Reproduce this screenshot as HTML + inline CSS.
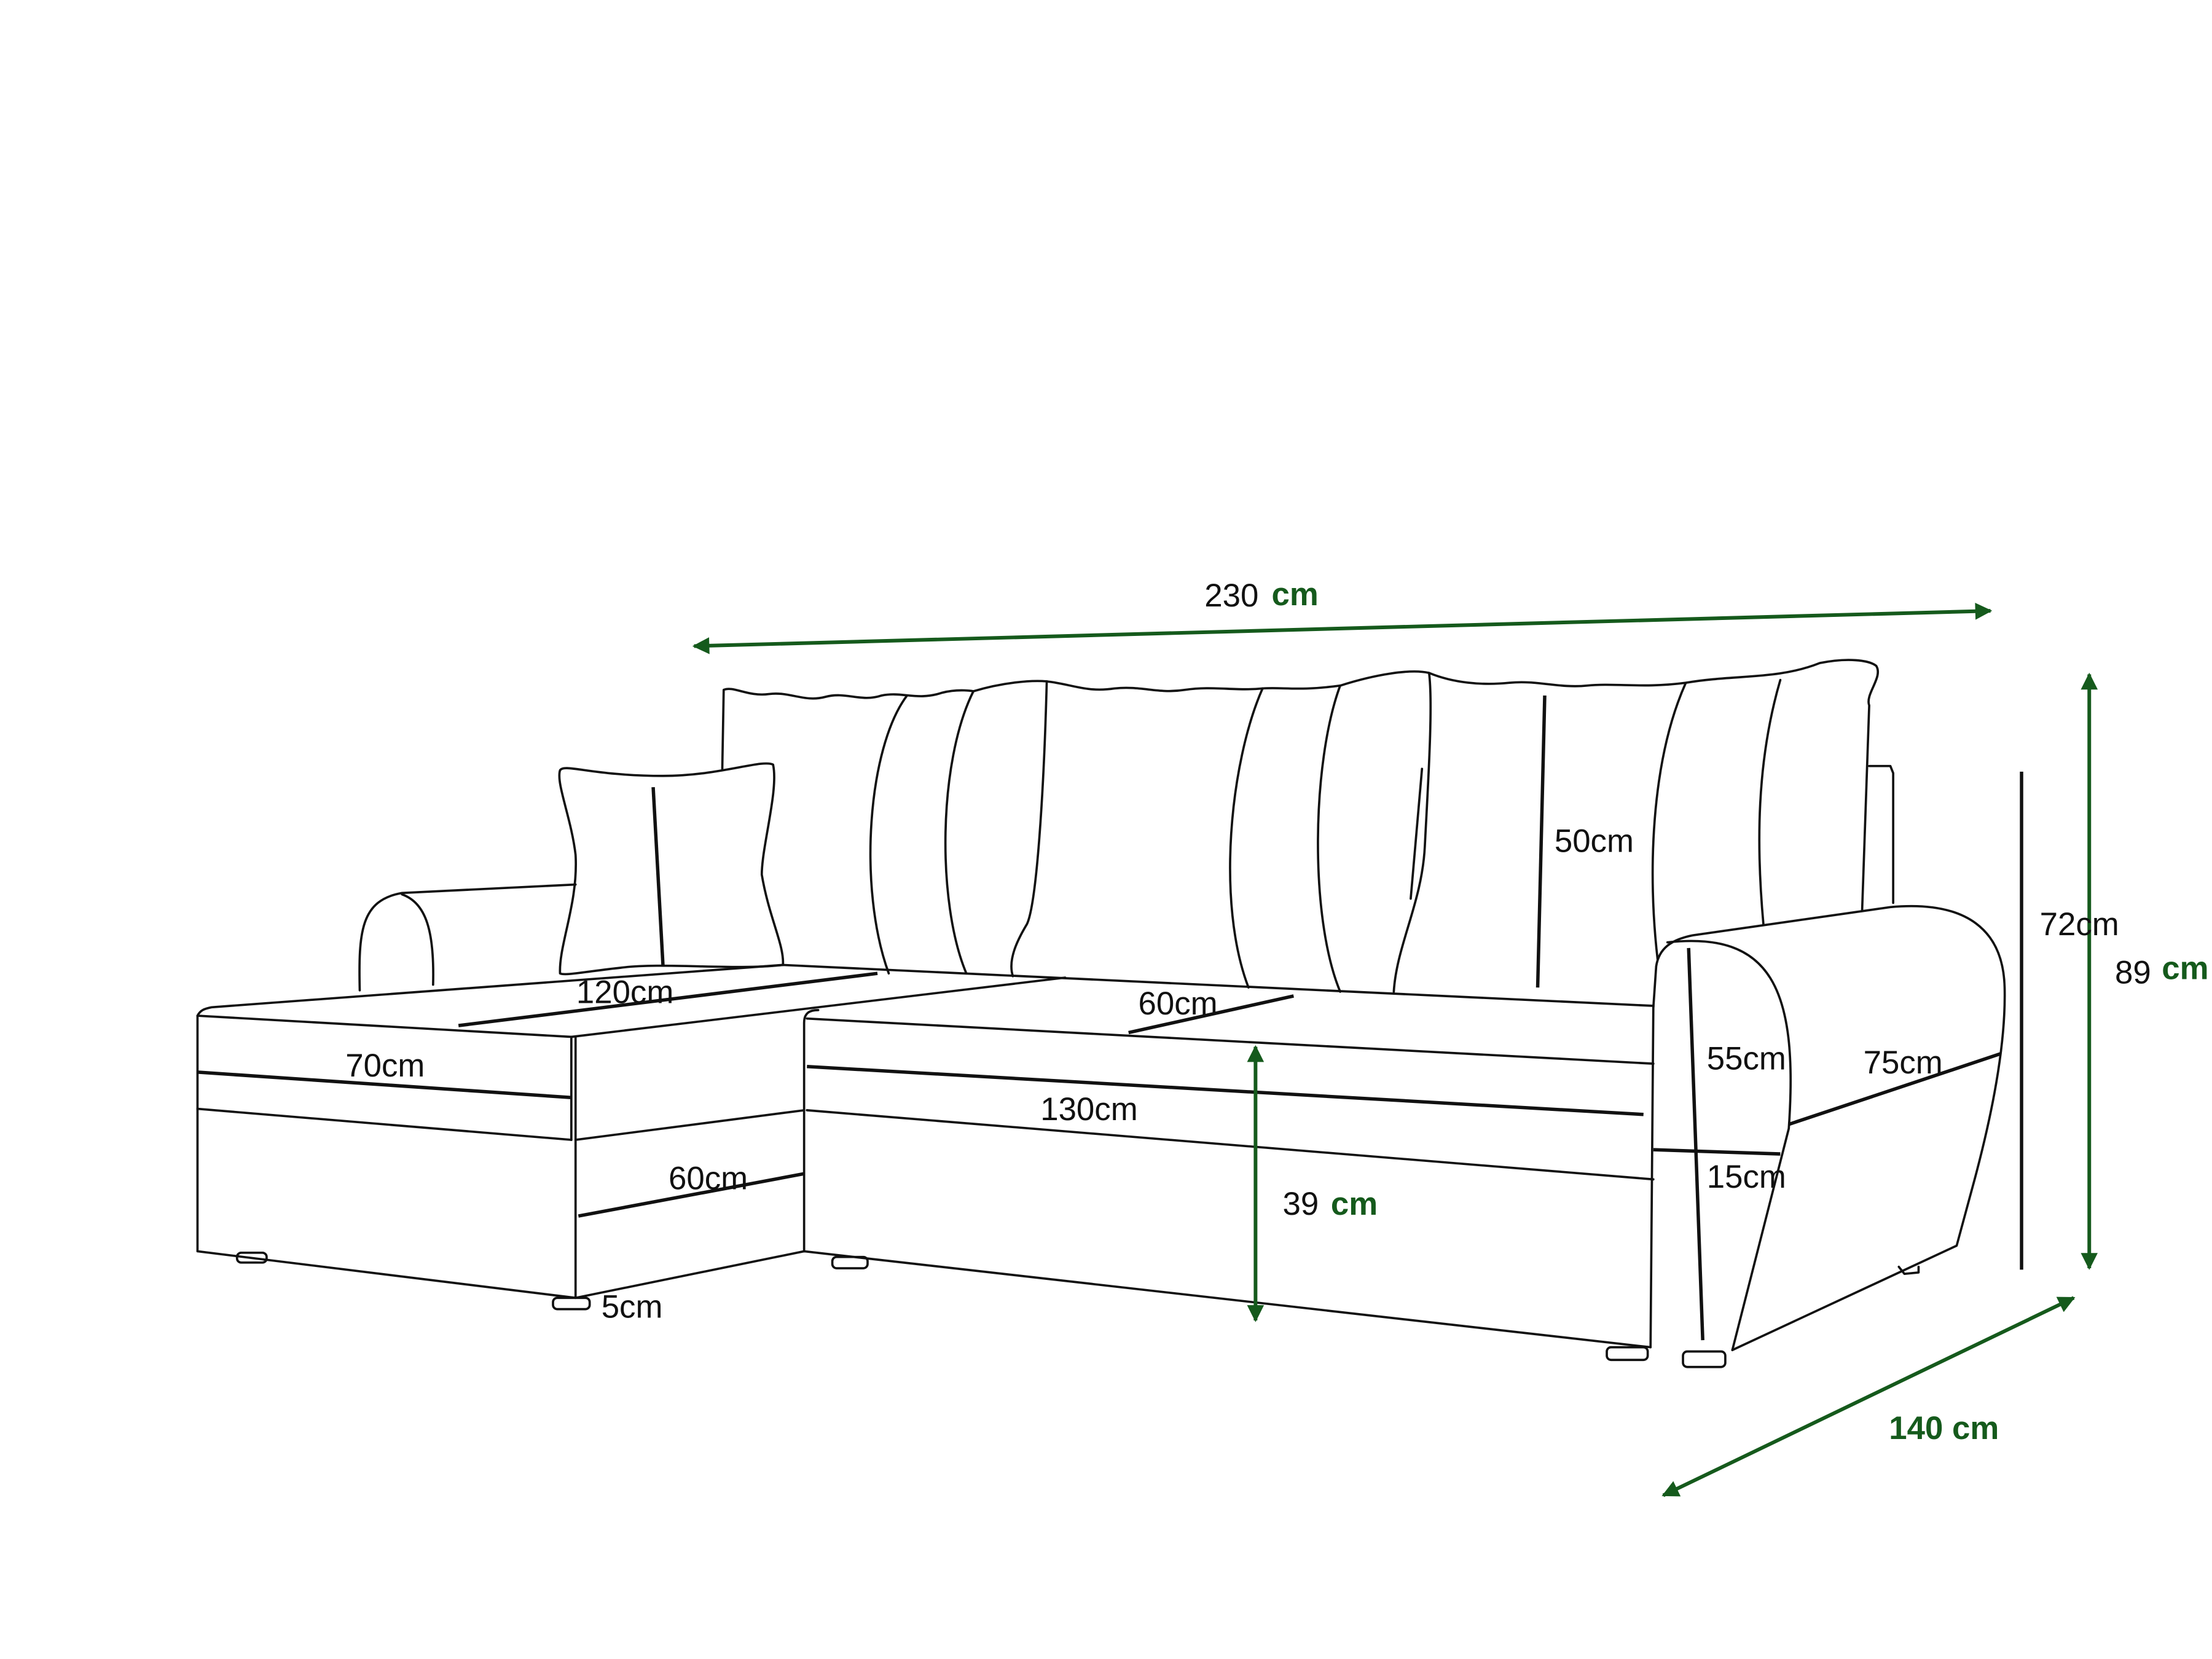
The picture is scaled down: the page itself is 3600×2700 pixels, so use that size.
<!DOCTYPE html>
<html><head><meta charset="utf-8"><style>
html,body{margin:0;padding:0;background:#fff;}
svg{display:block;}
text{font-family:"Liberation Sans",sans-serif;font-size:23px;fill:#111;text-anchor:middle;}
.g{fill:#155a1c;font-weight:bold;}
</style></head><body>
<svg width="3600" height="2700" viewBox="0 0 1568 1176" xmlns="http://www.w3.org/2000/svg">
<defs>
<marker id="ah" viewBox="0 0 10 10" refX="9" refY="5" markerWidth="9" markerHeight="7" orient="auto-start-reverse" markerUnits="userSpaceOnUse">
<path d="M0,0 L10,5 L0,10 z" fill="#155a1c"/></marker>
<marker id="ah2" viewBox="0 0 10 10" refX="9" refY="5" markerWidth="22" markerHeight="12" orient="auto-start-reverse" markerUnits="userSpaceOnUse">
<path d="M0,0 L10,5 L0,10 z" fill="#155a1c"/></marker>
</defs>
<g fill="none" stroke="#111" stroke-width="1.6" stroke-linejoin="round" stroke-linecap="round">
<!-- left arm -->
<path d="M255,702 C254,660 256,638 285,633 L408,627"/>
<path d="M285,634 C302,640 308,660 307,698"/>
<!-- small pillow -->
<path d="M397,546 C400,541 420,550 470,550 C510,550 540,538 548,542 C552,560 540,600 540,620 C545,650 556,670 555,684 C520,688 470,682 440,686 C420,688 400,692 397,690 C396,670 410,640 408,606 C405,580 394,555 397,546 Z"/>
<!-- back pillows -->
<path d="M512,545 L513,489 C520,486 530,494 545,492 C560,490 570,498 585,494 C600,490 610,498 625,493 C640,490 650,497 668,491 C680,488 690,490 690,490"/>
<path d="M643,493 C615,530 608,630 630,690"/>
<path d="M690,490 C665,540 664,640 685,690"/>
<path d="M690,490 C710,484 730,482 742,483 C740,560 735,640 728,655 C722,665 714,680 718,692"/>
<path d="M742,483 C760,485 770,491 790,488 C810,486 820,492 840,489 C860,486 875,490 895,488 C910,487 920,490 950,486"/>
<path d="M895,488 C872,540 862,640 885,700"/>
<path d="M950,486 C930,540 928,650 950,703"/>
<path d="M950,486 C975,478 1000,474 1013,477 C1016,500 1012,560 1010,600 C1008,640 990,670 988,703"/>
<path d="M1013,477 C1030,484 1050,486 1070,484 C1090,482 1105,488 1125,486 C1145,484 1165,488 1195,484 C1230,478 1260,482 1290,470 C1310,466 1325,468 1330,472 C1335,480 1322,492 1325,500 L1320,645"/>
<path d="M1195,484 C1170,540 1168,620 1175,680"/>
<path d="M1262,482 C1245,540 1245,600 1250,655"/>
<path d="M1325,543 L1340,543 L1342,548 L1342,640"/>
<path d="M1008,545 L1000,637"/>
<!-- chaise & seat top -->
<path d="M140,720 C142,716 145,715 150,714 L555,684 L1172,713"/>
<path d="M405,735 L755,693"/>
<!-- chaise front -->
<path d="M140,720 L405,735 L405,808 M140,720 L140,887 L408,920 L408,735"/>
<path d="M140,786 L405,808"/>
<path d="M408,808 L570,787"/>
<path d="M408,920 L570,887"/>
<!-- main seat -->
<path d="M570,887 L570,725 C570,718 574,716 580,716"/>
<path d="M572,722 L1172,754"/>
<path d="M572,787 L1172,836"/>
<path d="M570,887 L1170,955"/>
<path d="M1172,713 L1170,955"/>
<!-- right arm -->
<path d="M1172,714 L1174,685 C1176,672 1185,666 1200,663 L1340,643 C1395,638 1420,660 1421,700 C1422,740 1412,790 1400,835 L1387,883 L1228,957"/>
<path d="M1182,668 C1255,660 1275,700 1268,800 L1228,957"/>
<!-- legs -->
<rect x="168" y="888" width="21" height="7" rx="3"/>
<rect x="392" y="920" width="26" height="8" rx="3"/>
<rect x="590" y="891" width="25" height="8" rx="3"/>
<rect x="1139" y="955" width="29" height="9" rx="3"/>
<rect x="1193" y="958" width="30" height="11" rx="3"/>
<path d="M1346,898 L1350,903 L1360,902 L1360,898"/>
</g>
<!-- black dimension lines -->
<g stroke="#111" stroke-width="2.4" fill="none">
<path d="M140,760 L405,778"/>
<path d="M572,756 L1165,790"/>
<path d="M410,862 L570,832"/>
<path d="M463,558 L470,685"/>
<path d="M325,727 L622,690"/>
<path d="M800,732 L917,706"/>
<path d="M1095,493 L1090,700"/>
<path d="M1197,672 L1207,950"/>
<path d="M1268,797 L1418,747"/>
<path d="M1433,547 L1433,900"/>
<path d="M1172,815 L1262,818"/>
</g>
<!-- green arrows -->
<g stroke="#155a1c" stroke-width="2.6" fill="none">
<path d="M492,458 L1411,433" marker-start="url(#ah2)" marker-end="url(#ah2)"/>
<path d="M890,742 L890,936" marker-start="url(#ah2)" marker-end="url(#ah2)"/>
<path d="M1481,478 L1481,899" marker-start="url(#ah2)" marker-end="url(#ah2)"/>
<path d="M1179,1060 L1470,920" marker-start="url(#ah2)" marker-end="url(#ah2)"/>
</g>
<!-- labels -->
<text x="873" y="430">230</text><text class="g" x="918" y="429">cm</text>
<text x="922" y="861">39</text><text class="g" x="960" y="861">cm</text>
<text x="1512" y="697">89</text><text class="g" x="1549" y="694">cm</text>
<text class="g" x="1378" y="1020">140 cm</text>
<text x="443" y="711">120cm</text>
<text x="273" y="763">70cm</text>
<text x="835" y="719">60cm</text>
<text x="772" y="794">130cm</text>
<text x="502" y="843">60cm</text>
<text x="448" y="934">5cm</text>
<text x="1130" y="604">50cm</text>
<text x="1238" y="758">55cm</text>
<text x="1349" y="761">75cm</text>
<text x="1238" y="842">15cm</text>
<text x="1474" y="663">72cm</text>
</svg>
</body></html>
